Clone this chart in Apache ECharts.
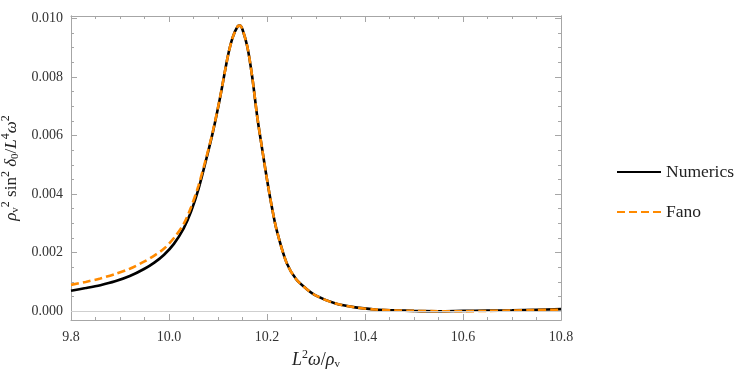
<!DOCTYPE html>
<html>
<head>
<meta charset="utf-8">
<script src="https://cdn.jsdelivr.net/npm/echarts@6/dist/echarts.min.js"></script>
<style>
html,body{margin:0;padding:0;background:#fff;}
#chart{width:747px;height:380px;}
</style>
</head>
<body>
<div id="chart"></div>
<script>
// ---- data ----
const xValues = [9.80, 9.83, 9.86, 9.89, 9.92, 9.95, 9.97, 9.99, 10.01, 10.03, 10.045, 10.06, 10.075, 10.09, 10.105, 10.12, 10.13, 10.14, 10.145, 10.15, 10.16, 10.17, 10.18, 10.19, 10.20, 10.21, 10.22, 10.24, 10.26, 10.28, 10.30, 10.34, 10.38, 10.42, 10.46, 10.50, 10.55, 10.60, 10.65, 10.70, 10.75, 10.80];
const numericsValues = [0.00070, 0.00079, 0.00089, 0.00102, 0.00120, 0.00145, 0.00166, 0.00193, 0.00230, 0.00283, 0.00340, 0.00416, 0.00512, 0.00615, 0.00736, 0.00870, 0.00935, 0.00972, 0.00975, 0.00962, 0.00902, 0.00798, 0.00665, 0.00555, 0.00450, 0.00355, 0.00275, 0.00165, 0.00108, 0.00077, 0.00053, 0.00026, 0.00013, 0.00006, 0.00003, 0.00001, 0.00000, 0.00001, 0.00002, 0.00003, 0.00005, 0.00007];
const fanoValues = [0.00090, 0.00100, 0.00112, 0.00127, 0.00145, 0.00170, 0.00190, 0.00214, 0.00250, 0.00298, 0.00355, 0.00428, 0.00518, 0.00618, 0.00737, 0.00870, 0.00935, 0.00972, 0.00975, 0.00962, 0.00902, 0.00798, 0.00665, 0.00555, 0.00450, 0.00355, 0.00275, 0.00165, 0.00108, 0.00077, 0.00053, 0.00026, 0.00013, 0.00006, 0.00003, 0.00001, 0.00000, 0.00000, 0.00001, 0.00002, 0.00004, 0.00005];
const yMajorTicks = [0, 0.002, 0.004, 0.006, 0.008, 0.010];
const yMinorTicks = [0.0005, 0.001, 0.0015, 0.0025, 0.003, 0.0035, 0.0045, 0.005, 0.0055, 0.0065, 0.007, 0.0075, 0.0085, 0.009, 0.0095];
const seriesNames = ['Numerics', 'Fano'];

// ---- chart ----
const FONT = '"Liberation Serif", "DejaVu Serif", serif';
const FRAME = '#a6a6a6';
const chart = echarts.init(document.getElementById('chart'), null, {renderer: 'canvas'});

const numericsData = xValues.map((x, i) => [x, numericsValues[i]]);
const fanoData = xValues.map((x, i) => [x, fanoValues[i]]);

const xBase = {
  type: 'value', min: 9.8, max: 10.8, interval: 0.2,
  axisLine: {show: true, onZero: false, lineStyle: {color: FRAME, width: 1}},
  axisTick: {show: true, inside: true, length: 6, lineStyle: {color: FRAME}},
  minorTick: {show: true, splitNumber: 4, length: 3, lineStyle: {color: FRAME}},
  splitLine: {show: false}, minorSplitLine: {show: false}
};
const yBase = {
  type: 'value', min: -0.0003, max: 0.01008,
  axisLine: {show: true, onZero: false, lineStyle: {color: FRAME, width: 1}},
  splitLine: {show: false}
};

const sup = {fontFamily: FONT, fontSize: 12, color: '#222', padding: [0, 0, 10, 0]};
const sub = {fontFamily: FONT, fontSize: 11, color: '#222', padding: [8, 0, 0, 0]};
const it = {fontFamily: FONT, fontSize: 17, fontStyle: 'italic', color: '#222'};
const rm = {fontFamily: FONT, fontSize: 17, color: '#222'};
const itX = Object.assign({}, it, {fontSize: 18});
const rmX = Object.assign({}, rm, {fontSize: 18});

chart.setOption({
  animation: false,
  backgroundColor: '#fff',
  grid: {left: 71, right: 186, top: 16, bottom: 60, containLabel: false, outerBoundsMode: 'none'},
  legend: {
    orient: 'vertical', left: 611, top: 158,
    itemWidth: 44, itemHeight: 16, itemGap: 22,
    data: seriesNames,
    itemStyle: {opacity: 0},
    textStyle: {fontFamily: FONT, fontSize: 17.5, color: '#222', padding: [0, 0, 0, 0]}
  },
  xAxis: [
    Object.assign({}, xBase, {
      position: 'bottom',
      axisLabel: {show: true, margin: 10, fontFamily: FONT, fontSize: 14, color: '#333',
        formatter: v => v.toFixed(1)},
      name: '{i|L}{sp|2}{i|ω}{r|/}{i|ρ}{sb|v}',
      nameLocation: 'middle', nameGap: 26,
      nameTextStyle: {rich: {i: itX, r: rmX, sp: sup, sb: sub}}
    }),
    Object.assign({}, xBase, {position: 'top', axisLabel: {show: false}})
  ],
  yAxis: [
    Object.assign({}, yBase, {
      position: 'left',
      axisTick: {show: true, inside: true, length: 6, lineStyle: {color: FRAME}, customValues: yMajorTicks},
      axisLabel: {show: true, margin: 8, fontFamily: FONT, fontSize: 14, color: '#333',
        customValues: yMajorTicks, formatter: v => v.toFixed(3)},
      name: '{i|ρ}{sb|v}{sp|2}{r| sin}{sp|2}{r| }{i|δ}{sb|0}{r|/}{i|L}{sp|4}{i|ω}{sp|2}',
      nameLocation: 'middle', nameGap: 37, nameRotate: 90,
      nameTextStyle: {rich: {i: it, r: rm, sp: sup, sb: sub}}
    }),
    Object.assign({}, yBase, {
      position: 'left',
      axisTick: {show: true, inside: true, length: 3, lineStyle: {color: FRAME}, customValues: yMinorTicks},
      axisLabel: {show: false}
    }),
    Object.assign({}, yBase, {
      position: 'right',
      axisTick: {show: true, inside: true, length: 6, lineStyle: {color: FRAME}, customValues: yMajorTicks},
      axisLabel: {show: false}
    }),
    Object.assign({}, yBase, {
      position: 'right',
      axisTick: {show: true, inside: true, length: 3, lineStyle: {color: FRAME}, customValues: yMinorTicks},
      axisLabel: {show: false}
    })
  ],
  series: [
    {
      name: seriesNames[0], type: 'line', xAxisIndex: 0, yAxisIndex: 0,
      data: numericsData, symbol: 'none', smooth: 0.3,
      lineStyle: {color: '#000', width: 2.6},
      itemStyle: {color: '#000'},
      markLine: {
        silent: true, symbol: 'none', label: {show: false},
        lineStyle: {color: '#cfcfcf', width: 1, type: 'solid'},
        data: [{yAxis: 0}]
      },
      z: 2
    },
    {
      name: seriesNames[1], type: 'line', xAxisIndex: 0, yAxisIndex: 0,
      data: fanoData, symbol: 'none', smooth: 0.3,
      lineStyle: {color: '#ff8a00', width: 2.6, type: [8, 4]},
      itemStyle: {color: '#ff8a00'},
      z: 3
    }
  ]
});
</script>
</body>
</html>
